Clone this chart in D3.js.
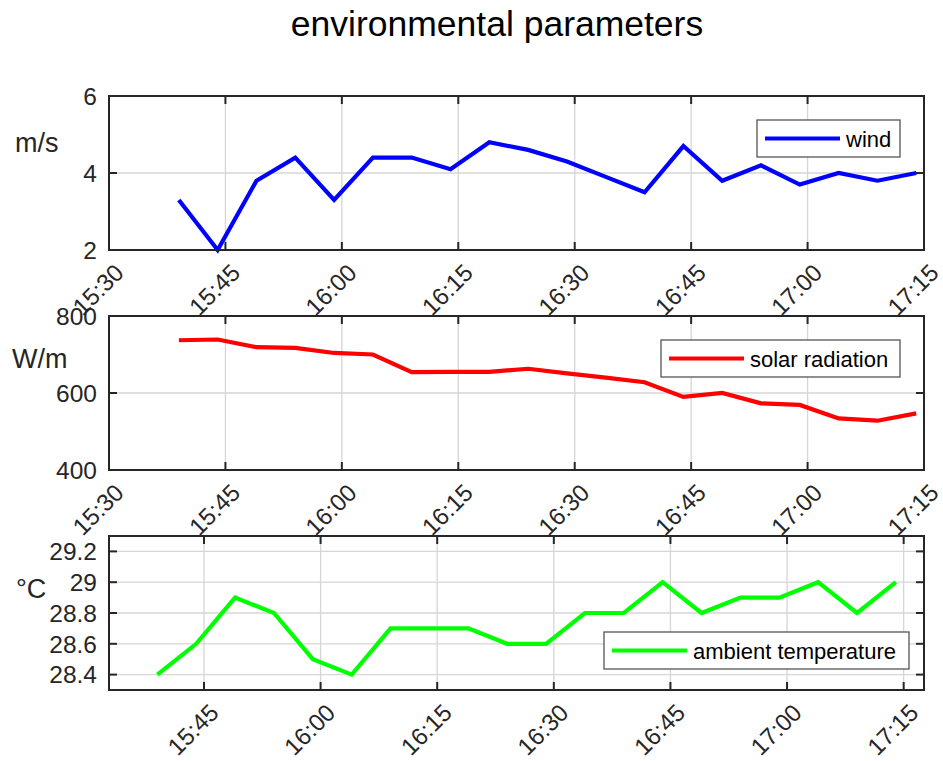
<!DOCTYPE html>
<html>
<head>
<meta charset="utf-8">
<script src="https://cdn.jsdelivr.net/npm/d3@7"></script>
<style>
  body { margin: 0; background: #fff; }
  text { font-family: "Liberation Sans", Arial, Helvetica, sans-serif; }
</style>
</head>
<body>
<script>
var w = 943, h = 761;

// sample times (every 5 min)
var times = ['15:39','15:44','15:49','15:54','15:59','16:04','16:09','16:14','16:19','16:24',
             '16:29','16:34','16:39','16:44','16:49','16:54','16:59','17:04','17:09','17:14'];
var wind  = [3.3, 2.0, 3.8, 4.4, 3.3, 4.4, 4.4, 4.1, 4.8, 4.6, 4.3, 3.9, 3.5, 4.7, 3.8, 4.2, 3.7, 4.0, 3.8, 4.0];
var solar = [737, 739, 719, 717, 704, 700, 654, 655, 655, 663, 651, 640, 628, 590, 600, 573, 569, 534, 528, 547];
var temp  = [28.4, 28.6, 28.9, 28.8, 28.5, 28.4, 28.7, 28.7, 28.7, 28.6, 28.6, 28.8, 28.8, 29.0, 28.8, 28.9, 28.9, 29.0, 28.8, 29.0];

var xTicks = ['15:30','15:45','16:00','16:15','16:30','16:45','17:00','17:15'];
var windTicks  = [2, 4, 6];
var solarTicks = [400, 600, 800];
var tempTicks  = [28.4, 28.6, 28.8, 29, 29.2];

var parse = d3.timeParse('%H:%M:%S');
function t(s) { return s.length === 5 ? parse(s + ':00') : parse(s); }

var svg = d3.select('body').append('svg')
    .attr('width', w)
    .attr('height', h);

svg.append('text')
    .attr('x', 497).attr('y', 36)
    .attr('text-anchor', 'middle')
    .style('font-size', '35.5px')
    .style('fill', '#000')
    .text('environmental parameters');

var left = 109, right = 924;

function panel(cfg) {
    var x = d3.scaleTime().domain(cfg.xDomain.map(t)).range([left, right]);
    var y = d3.scaleLinear().domain(cfg.yDomain).range([cfg.bottom, cfg.top]);
    var g = svg.append('g');
    var xt = cfg.xTicks.map(t);

    // grid
    g.selectAll('.gx').data(xt).enter().append('line')
        .attr('x1', x).attr('x2', x)
        .attr('y1', cfg.top).attr('y2', cfg.bottom)
        .style('stroke', '#d6d6d6').style('stroke-width', 1.3);
    g.selectAll('.gy').data(cfg.yTicks).enter().append('line')
        .attr('x1', left).attr('x2', right)
        .attr('y1', y).attr('y2', y)
        .style('stroke', '#d6d6d6').style('stroke-width', 1.3);

    // series
    var line = d3.line()
        .x(function(d, i) { return x(t(times[i])); })
        .y(function(d) { return y(d); });
    g.append('path')
        .datum(cfg.values)
        .attr('d', line)
        .style('fill', 'none')
        .style('stroke', cfg.color)
        .style('stroke-width', 4.2)
        .style('stroke-linejoin', 'miter');

    // ticks (inside, all four sides)
    var tl = 8;
    xt.forEach(function(d) {
        g.append('line').attr('x1', x(d)).attr('x2', x(d))
            .attr('y1', cfg.bottom).attr('y2', cfg.bottom - tl);
        g.append('line').attr('x1', x(d)).attr('x2', x(d))
            .attr('y1', cfg.top).attr('y2', cfg.top + tl);
    });
    cfg.yTicks.forEach(function(d) {
        g.append('line').attr('x1', left).attr('x2', left + tl)
            .attr('y1', y(d)).attr('y2', y(d));
        g.append('line').attr('x1', right).attr('x2', right - tl)
            .attr('y1', y(d)).attr('y2', y(d));
    });
    g.selectAll('line:not([style])')
        .style('stroke', '#262626').style('stroke-width', 2);

    // box
    g.append('rect')
        .attr('x', left).attr('y', cfg.top)
        .attr('width', right - left).attr('height', cfg.bottom - cfg.top)
        .style('fill', 'none').style('stroke', '#262626').style('stroke-width', 2);

    // tick labels
    g.selectAll('.xl').data(cfg.xTicks).enter().append('text')
        .attr('transform', function(d) {
            return 'translate(' + [x(t(d)) + 4, cfg.bottom + 12] + ') rotate(-45)';
        })
        .attr('dy', '0.72em')
        .attr('text-anchor', 'end')
        .style('font-size', '24px').style('fill', '#262626')
        .text(function(d) { return d; });
    g.selectAll('.yl').data(cfg.yTicks).enter().append('text')
        .attr('x', left - 12).attr('y', y)
        .attr('dy', '0.36em')
        .attr('text-anchor', 'end')
        .style('font-size', '24.5px').style('fill', '#262626')
        .text(function(d) { return d3.format('~g')(d); });

    // y label
    svg.append('text')
        .attr('x', cfg.labelX).attr('y', cfg.labelY)
        .style('font-size', '27px').style('fill', '#262626')
        .text(cfg.label);

    // legend
    var L = cfg.legend;
    var lg = svg.append('g');
    lg.append('rect')
        .attr('x', L.x).attr('y', L.y).attr('width', L.w).attr('height', 37)
        .style('fill', '#fff').style('stroke', '#555').style('stroke-width', 1.3);
    lg.append('line')
        .attr('x1', L.x + 8).attr('x2', L.x + 83)
        .attr('y1', L.y + 18.5).attr('y2', L.y + 18.5)
        .style('stroke', cfg.color).style('stroke-width', 4.2);
    lg.append('text')
        .attr('x', L.x + 89).attr('y', L.y + 26.5)
        .style('font-size', '22px').style('fill', '#000')
        .text(cfg.name);
}

panel({
    top: 96, bottom: 250,
    xDomain: ['15:30', '17:15'], xTicks: xTicks,
    yDomain: [2, 6], yTicks: windTicks,
    values: wind, color: '#0000ff', name: 'wind',
    label: 'm/s', labelX: 15, labelY: 152,
    legend: { x: 757, y: 120, w: 143 }
});

panel({
    top: 316, bottom: 470,
    xDomain: ['15:30', '17:15'], xTicks: xTicks,
    yDomain: [400, 800], yTicks: solarTicks,
    values: solar, color: '#ff0000', name: 'solar radiation',
    label: 'W/m', labelX: 12, labelY: 368,
    legend: { x: 661, y: 340, w: 239 }
});

panel({
    top: 536, bottom: 690,
    xDomain: ['15:32:47', '17:17:37'], xTicks: xTicks.slice(1),
    yDomain: [28.3, 29.3], yTicks: tempTicks,
    values: temp, color: '#00ff00', name: 'ambient temperature',
    label: '°C', labelX: 16, labelY: 598,
    legend: { x: 604, y: 632, w: 305 }
});
</script>
</body>
</html>
